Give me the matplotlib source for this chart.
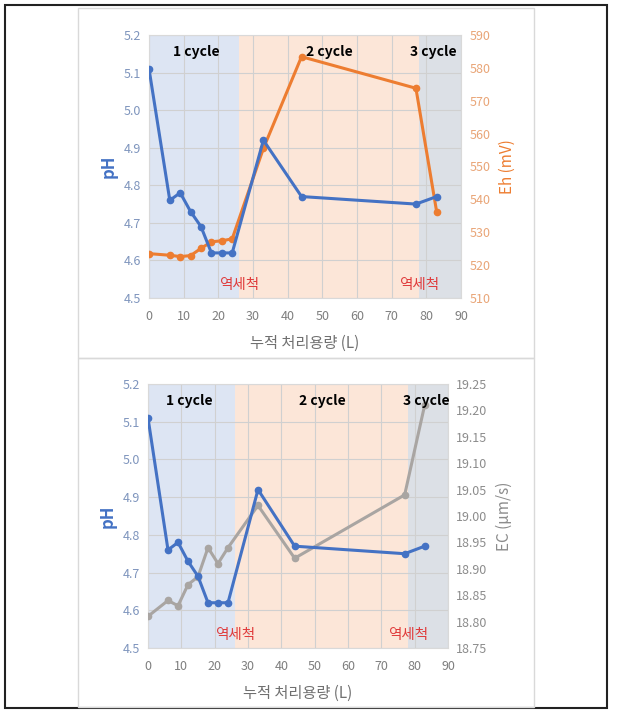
import matplotlib

matplotlib.use('Agg')
import matplotlib.pyplot as plt  # noqa: E402
from matplotlib.patches import Rectangle  # noqa: E402
from matplotlib.ticker import FormatStrFormatter, MultipleLocator  # noqa: E402

plt.rcParams['font.family'] = ['Noto Sans CJK KR', 'DejaVu Sans']

# data
volume = [0, 6, 9, 12, 15, 18, 21, 24, 33, 44, 77, 83]
ph = [5.11, 4.76, 4.78, 4.73, 4.69, 4.62, 4.62, 4.62, 4.92, 4.77, 4.75, 4.77]
eh = [523.5, 523.0, 522.6, 522.9, 525.1, 527.1, 527.4, 528.0, 555.5, 583.4, 573.8, 536.1]
ec = [18.81, 18.84, 18.83, 18.87, 18.885, 18.94, 18.91, 18.94, 19.02, 18.92, 19.04, 19.21]

cycle_edges = [0, 26, 78, 90]
cycle_names = ['1 cycle', '2 cycle', '3 cycle']
backwash_at = [26, 78]
backwash_label = '역세척'

BLUE = '#4472C4'
ORANGE = '#ED7D31'
GRAY = '#A9A5A2'
SPAN_COLORS = ['#DDE5F3', '#FCE6D8', '#DCE0E6']

fig = plt.figure(figsize=(6.17, 7.18), dpi=100)

# outer frame and panel frames
fig.patches.append(Rectangle((5 / 617, 1 - 708 / 718), 602 / 617, 703 / 718,
                             transform=fig.transFigure, fill=False,
                             edgecolor='#222222', linewidth=1.5))
for y0, y1 in [(8, 358), (358, 707)]:
    fig.patches.append(Rectangle((78 / 617, 1 - y1 / 718), 456 / 617, (y1 - y0) / 718,
                                 transform=fig.transFigure, fill=False,
                                 edgecolor='#D9D9D9', linewidth=1.0))


def draw_panel(rect, right_vals, right_color, right_lim, right_step, right_fmt,
               right_label, right_label_color, cycle_x, tick_color_right):
    ax = fig.add_axes(rect)
    for i in range(3):
        ax.axvspan(cycle_edges[i], cycle_edges[i + 1], color=SPAN_COLORS[i], zorder=0, lw=0)
    ax.set_xlim(0, 90)
    ax.set_ylim(4.5, 5.2)
    ax.xaxis.set_major_locator(MultipleLocator(10))
    ax.yaxis.set_major_locator(MultipleLocator(0.1))
    ax.yaxis.set_major_formatter(FormatStrFormatter('%.1f'))
    ax.grid(True, color='#D0D0D0', linewidth=0.8, zorder=1)
    ax.set_axisbelow(True)
    for s in ax.spines.values():
        s.set_color('#D9D9D9')
    ax.tick_params(length=0, labelsize=9, pad=6)
    ax.tick_params(axis='x', pad=9)
    ax.tick_params(axis='y', colors='#7F95BD')
    ax.tick_params(axis='x', colors='#7F7F7F')
    ax.set_ylabel('pH', color=BLUE, fontsize=12, fontweight='bold', labelpad=4)
    ax.set_xlabel('누적 처리용량 (L)', color='#707070', fontsize=11, labelpad=8)

    ax2 = ax.twinx()
    ax2.plot(volume, right_vals, color=right_color, lw=2.2, marker='o', ms=4.5, zorder=3)
    ax2.set_ylim(*right_lim)
    ax2.yaxis.set_major_locator(MultipleLocator(right_step))
    ax2.yaxis.set_major_formatter(FormatStrFormatter(right_fmt))
    ax2.tick_params(length=0, labelsize=9, colors=tick_color_right, pad=6)
    for s in ax2.spines.values():
        s.set_visible(False)
    ax2.set_ylabel(right_label, color=right_label_color, fontsize=11, labelpad=6)

    # pH line on top
    ax3 = ax.twinx()
    ax3.set_ylim(4.5, 5.2)
    ax3.plot(volume, ph, color=BLUE, lw=2.2, marker='o', ms=4.5, zorder=4)
    ax3.axis('off')

    for name, cx in zip(cycle_names, cycle_x):
        ax3.text(cx, 5.155, name, ha='center', va='center', fontsize=10,
                 fontweight='bold', color='black', zorder=5)
    for bx in backwash_at:
        ax3.text(bx, 4.535, backwash_label, ha='center', va='center', fontsize=10.5,
                 color='#E03C3C', zorder=5)
    return ax


draw_panel([149 / 617, 1 - 298 / 718, 312 / 617, 263 / 718], eh, ORANGE, (510, 590), 10,
           '%d', 'Eh (mV)', ORANGE, [13.6, 52, 82], '#E9A577')
draw_panel([148 / 617, 1 - 648 / 718, 300 / 617, 264 / 718], ec, GRAY, (18.75, 19.25), 0.05,
           '%.2f', 'EC (μm/s)', '#8C8C8C', [12.3, 52.2, 83.4], '#8C8C8C')

fig.savefig('out.png', dpi=100)
plt.close(fig)
